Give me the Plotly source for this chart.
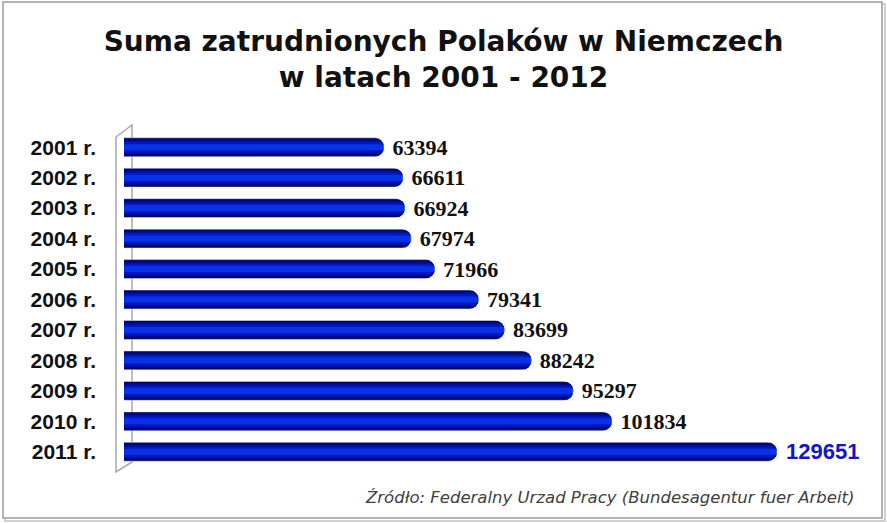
import plotly.graph_objects as go

# Dane: liczba zatrudnionych Polaków w Niemczech
lata = ["2001 r.", "2002 r.", "2003 r.", "2004 r.", "2005 r.", "2006 r.",
        "2007 r.", "2008 r.", "2009 r.", "2010 r.", "2011 r."]
zatrudnieni = [63394, 66611, 66924, 67974, 71966, 79341,
               83699, 88242, 95297, 101834, 129651]

tytul = "Suma zatrudnionych Polaków w Niemczech<br>w latach 2001 - 2012"
zrodlo = "Źródło: Federalny Urzad Pracy (Bundesagentur fuer Arbeit)"

fig = go.Figure()

# warstwy imitujące cylindryczny słupek (od ciemnej krawędzi do jasnego środka)
warstwy = [
    (0.62, "#00065c"),
    (0.50, "#000b92"),
    (0.36, "#0018c0"),
    (0.20, "#0832e8"),
]
for szer, kolor in warstwy:
    fig.add_trace(go.Bar(
        x=zatrudnieni, y=lata, orientation="h",
        width=szer,
        marker=dict(color=kolor, line=dict(width=0), cornerradius="50%"),
        hoverinfo="skip", showlegend=False,
    ))

# etykiety wartości - ostatnia wyróżniona na niebiesko
kolory_tekstu = ["#111111"] * (len(lata) - 1) + ["#1414c8"]
czcionki = ["Liberation Serif"] * (len(lata) - 1) + ["Liberation Sans"]
rozmiary = [22] * (len(lata) - 1) + [22]
fig.add_trace(go.Bar(
    x=zatrudnieni, y=lata, orientation="h",
    width=0.62,
    marker=dict(color="rgba(0,0,0,0)"),
    text=["\u00a0" + str(v) for v in zatrudnieni],
    textposition="outside",
    constraintext="none",
    textfont=dict(color=kolory_tekstu, family=czcionki, size=rozmiary, weight="bold"),
    cliponaxis=False,
    hoverinfo="skip", showlegend=False,
))

# przeliczenie pikseli na współrzędne "paper"
pw = 714.0
ph = 335.0
def px(x):
    return (x - 124) / pw
def py(y):
    return (467 - y) / ph

# ramka wykresu z lekkim cieniem
fig.add_shape(type="rect", xref="paper", yref="paper",
              x0=px(5), x1=px(885), y0=py(521), y1=py(4),
              line=dict(color="#d0d0d0", width=2), layer="below")
fig.add_shape(type="rect", xref="paper", yref="paper",
              x0=px(3), x1=px(882), y0=py(518), y1=py(2),
              line=dict(color="#9a9a9a", width=1.5), fillcolor="white", layer="below")

# ścianka "3D" po lewej stronie osi
sciana = (f"M {px(116)},{py(137)} L {px(132)},{py(125)} L {px(132)},{py(462)} "
          f"L {px(116)},{py(472)} Z")
fig.add_shape(type="path", path=sciana, xref="paper", yref="paper",
              line=dict(color="#a8a8a8", width=1.5), fillcolor="rgba(0,0,0,0)", layer="below")

fig.add_annotation(
    text=zrodlo, xref="paper", yref="paper",
    x=px(856), y=py(497), xanchor="right", yanchor="middle",
    showarrow=False,
    font=dict(family="DejaVu Sans", size=16.5, color="#404040", style="italic"),
)

fig.update_layout(
    width=887, height=523,
    barmode="overlay",
    title=dict(
        text=tytul, x=0.5, xanchor="center", xref="container",
        y=1 - 51 / 523, yanchor="middle",
        font=dict(family="DejaVu Sans", size=28, color="#111111", weight="bold"),
    ),
    margin=dict(l=124, r=49, t=132, b=56),
    paper_bgcolor="white",
    plot_bgcolor="rgba(0,0,0,0)",
    xaxis=dict(range=[19560, 139940], visible=False, fixedrange=True),
    yaxis=dict(
        autorange="reversed",
        showgrid=False, zeroline=False, showline=False,
        ticks="", ticklabelstandoff=27, fixedrange=True,
        tickfont=dict(family="Liberation Sans", size=21, color="#111111", weight="bold"),
    ),
)

fig.write_html("out.html", config={"displayModeBar": False},
               post_script="document.body.style.margin='0';")
